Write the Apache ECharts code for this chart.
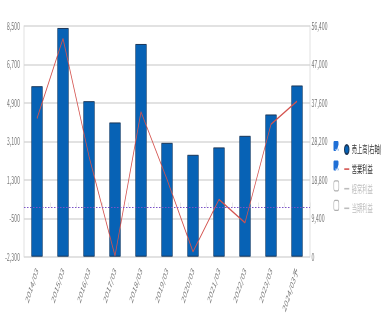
<!DOCTYPE html>
<html><head><meta charset="utf-8">
<script src="https://cdn.jsdelivr.net/npm/echarts@6/dist/echarts.min.js"></script>
<style>
html,body{margin:0;padding:0;background:#fff;overflow:hidden;}
#c{width:784px;height:330px;transform:scaleX(0.5);transform-origin:0 0;}
</style></head>
<body><div id="c"></div>
<script>
const categories = ['2014/03','2015/03','2016/03','2017/03','2018/03','2019/03','2020/03','2021/03','2022/03','2023/03','2024/03予'];
const sales = [41680, 55920, 38020, 32820, 52010, 27840, 24910, 26720, 29550, 34770, 41860];
const operatingProfit = [4170, 7910, 2400, -2260, 4480, 1320, -2070, 380, -710, 3900, 4980];
const ordinaryProfit = [];
const netProfit = [];
const leftTicks = [-2300, -500, 1300, 3100, 4900, 6700, 8500];
const rightTicks = [0, 9400, 18800, 28200, 37600, 47000, 56400];
const seriesNames = ['売上高(右軸)', '営業利益', '経常利益', '当期利益'];

const font = '"Noto Sans CJK JP", "Noto Sans", sans-serif';
const fmt = v => Number(v).toLocaleString('en-US');
const chart = echarts.init(document.getElementById('c'), null, {renderer:'canvas'});

const legendTop = 138, legendStep = 19.6;
const boxes = [];
[true, true, false, false].forEach((on, i) => {
  const cy = legendTop + 8 + i * legendStep;
  if (on) {
    boxes.push({type:'rect', left:667, top:cy-5, shape:{width:10,height:10,r:1.5}, style:{fill:'#1f6fd6'}, z:10});
    boxes.push({type:'polyline', left:669, top:cy-3, shape:{points:[[0,3.5],[2.5,6.5],[6,0]]}, style:{stroke:'#fff', lineWidth:1.6, fill:null}, z:11});
  } else {
    boxes.push({type:'rect', left:667, top:cy-5, shape:{width:10,height:10,r:2.5}, style:{fill:'#fff', stroke:'#b0b0b0', lineWidth:1.2}, z:10});
  }
});
const dash = 'path://M0,0h10v1.6h-10z';

chart.setOption({
  animation:false,
  textStyle:{fontFamily:font},
  grid:{left:48, right:164, top:26, bottom:73.3, containLabel:false},
  legend:{
    orient:'vertical', left:683, top:legendTop, itemGap:6.6, itemWidth:10, itemHeight:9,
    textStyle:{fontSize:10.5, color:'#333', fontFamily:font, lineHeight:13},
    inactiveColor:'#bdbdbd',
    data:[{name:seriesNames[0], icon:'circle'}, {name:seriesNames[1], icon:dash}, {name:seriesNames[2], icon:dash}, {name:seriesNames[3], icon:dash}],
    selected:{[seriesNames[2]]:false, [seriesNames[3]]:false}
  },
  graphic: boxes,
  xAxis:{
    type:'category', data:categories,
    axisLine:{show:false},
    axisTick:{show:true, inside:true, length:5, lineStyle:{color:'#d0d0d0'}},
    axisLabel:{rotate:58, fontSize:10.5, color:'#777', margin:12, interval:0}
  },
  yAxis:[
    {type:'value', position:'left', min:leftTicks[0], max:leftTicks[leftTicks.length-1], interval:leftTicks[1]-leftTicks[0],
     axisLine:{show:true, lineStyle:{color:'#d6d6d6', width:1.5}}, axisTick:{show:false},
     axisLabel:{fontSize:10.5, color:'#777', margin:8, formatter:fmt},
     splitLine:{lineStyle:{color:'#d9d9d9', width:1.6}}},
    {type:'value', position:'right', min:rightTicks[0], max:rightTicks[rightTicks.length-1], interval:rightTicks[1]-rightTicks[0],
     axisLine:{show:true, lineStyle:{color:'#d6d6d6', width:1.5}}, axisTick:{show:false},
     axisLabel:{fontSize:10.5, color:'#777', margin:3, formatter:fmt},
     splitLine:{show:false}}
  ],
  series:[
    {name:seriesNames[0], type:'bar', yAxisIndex:1, data:sales, barWidth:'44%',
     itemStyle:{color:'#0762b5', borderColor:'#1a3658', borderWidth:1}, z:2},
    {name:seriesNames[1], type:'line', yAxisIndex:0, data:operatingProfit, symbol:'none',
     lineStyle:{color:'#d4534f', width:1.5}, itemStyle:{color:'#d4534f'}, z:3,
     markLine:{silent:true, symbol:'none', label:{show:false},
       lineStyle:{color:'#7b52c7', type:[3,3], width:1.2}, data:[{yAxis:0}]}},
    {name:seriesNames[2], type:'line', yAxisIndex:0, data:ordinaryProfit, symbol:'none',
     lineStyle:{color:'#70ad47', width:1.5}, itemStyle:{color:'#70ad47'}},
    {name:seriesNames[3], type:'line', yAxisIndex:0, data:netProfit, symbol:'none',
     lineStyle:{color:'#ffc000', width:1.5}, itemStyle:{color:'#ffc000'}}
  ]
});
</script></body></html>
